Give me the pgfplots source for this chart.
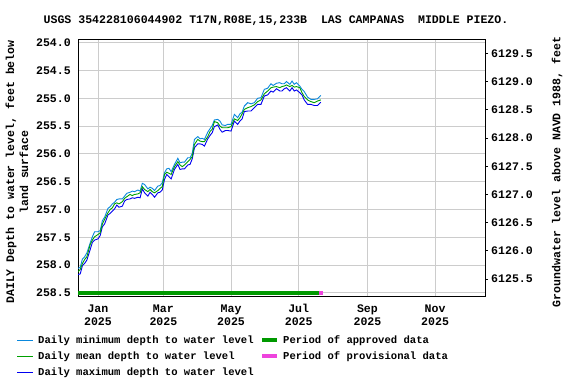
\documentclass[border=0pt]{standalone}
\usepackage{fontspec}
\setmainfont{Liberation Mono}
\usepackage{pgfplots}
\pgfplotsset{compat=1.18}
\definecolor{minblue}{RGB}{10,136,221}
\definecolor{meangreen}{RGB}{0,160,0}
\definecolor{maxblue}{RGB}{0,0,240}
\definecolor{apprgreen}{RGB}{0,153,0}
\definecolor{provpink}{RGB}{238,68,221}
\definecolor{gridgray}{RGB}{204,204,204}

\pgfplotstableread{
day mean
-18 258.12
-16 258.08
-14 257.97
-12 257.90
-10 257.85
-7 257.63
-5 257.55
-3 257.49
0 257.45
2 257.42
4 257.26
6 257.18
9 257.06
11 257.00
13 256.97
15 256.90
17 256.88
19 256.90
22 256.86
24 256.80
26 256.77
29 256.73
31 256.75
33 256.73
36 256.72
38 256.70
40 256.59
42 256.64
45 256.68
47 256.64
49 256.68
51 256.70
54 256.66
56 256.62
58 256.59
60 256.37
62 256.33
64 256.35
66 256.37
69 256.23
72 256.14
74 256.20
76 256.23
78 256.20
81 256.14
83 256.10
85 256.05
87 255.83
90 255.74
92 255.77
94 255.78
96 255.78
99 255.69
101 255.60
103 255.56
105 255.42
108 255.44
110 255.50
112 255.53
115 255.53
117 255.53
120 255.51
123 255.37
126 255.40
128 255.35
130 255.28
132 255.20
135 255.17
138 255.15
141 255.12
144 255.06
147 255.03
150 254.92
153 254.87
156 254.81
158 254.80
161 254.79
164 254.81
166 254.79
168 254.78
170 254.76
173 254.79
175 254.77
177 254.80
179 254.79
182 254.81
184 254.90
186 254.97
189 255.03
192 255.06
195 255.08
198 255.05
201 255.03
}\meandata

\pgfplotstableread{
day min max
-18 258.06 258.17
-16 258.04 258.16
-14 257.89 258.01
-12 257.85 257.97
-10 257.78 257.91
-7 257.60 257.72
-5 257.49 257.59
-3 257.40 257.55
0 257.40 257.53
2 257.38 257.47
4 257.20 257.31
6 257.14 257.26
9 256.98 257.10
11 256.95 257.07
13 256.90 257.03
15 256.87 256.99
17 256.82 256.92
19 256.81 256.96
22 256.81 256.94
24 256.76 256.85
26 256.71 256.82
29 256.69 256.81
31 256.67 256.79
33 256.68 256.80
36 256.65 256.78
38 256.67 256.79
40 256.53 256.63
42 256.55 256.70
45 256.63 256.76
47 256.60 256.69
49 256.62 256.73
51 256.66 256.78
54 256.58 256.70
56 256.57 256.69
58 256.52 256.65
60 256.34 256.46
62 256.27 256.37
64 256.26 256.41
66 256.32 256.45
69 256.19 256.28
72 256.08 256.19
74 256.16 256.28
76 256.15 256.27
78 256.15 256.27
81 256.07 256.20
83 256.07 256.19
85 255.99 256.09
87 255.74 255.89
90 255.69 255.82
92 255.73 255.82
94 255.72 255.83
96 255.74 255.86
99 255.61 255.73
101 255.55 255.67
103 255.49 255.62
105 255.39 255.51
108 255.38 255.48
110 255.41 255.56
112 255.48 255.61
115 255.49 255.58
117 255.47 255.58
120 255.47 255.59
123 255.29 255.41
126 255.35 255.47
128 255.28 255.41
130 255.25 255.37
132 255.14 255.24
135 255.08 255.23
138 255.10 255.23
141 255.08 255.17
144 255.00 255.11
147 254.99 255.11
150 254.84 254.96
153 254.82 254.94
156 254.74 254.87
158 254.77 254.89
161 254.73 254.83
164 254.72 254.87
166 254.74 254.87
168 254.74 254.83
170 254.70 254.81
173 254.75 254.87
175 254.69 254.81
177 254.75 254.87
179 254.72 254.85
182 254.78 254.90
184 254.84 254.94
186 254.88 255.03
189 254.98 255.11
192 255.02 255.11
195 255.02 255.13
198 255.01 255.13
201 254.95 255.07
}\minmaxdata

\begin{document}
\begin{tikzpicture}
\useasboundingbox (0bp,0bp) rectangle (576bp,384bp);
\tikzset{lbl/.style={font=\fontsize{11.6}{14}\selectfont\bfseries, inner sep=0pt}}

\begin{axis}[
  at={(78bp,88bp)}, anchor=south west,
  scale only axis, width=407bp, height=256.7bp,
  xmin=-18, xmax=349,
  ymin=253.94, ymax=258.556, y dir=reverse,
  axis line style={black, line width=1bp},
  grid=major, grid style={gridgray, line width=0.9bp},
  major tick length=0pt,
  xtick={0,59,120,181,243,304},
  xticklabels={\strut Jan\\2025, \strut Mar\\2025, \strut May\\2025, \strut Jul\\2025, \strut Sep\\2025, \strut Nov\\2025},
  xticklabel style={font=\fontsize{11.6}{13}\selectfont\bfseries, align=center, inner sep=0pt, yshift=-7bp},
  ytick={254,254.5,...,258.5},
  yticklabel style={font=\fontsize{11.6}{14}\selectfont\bfseries, inner sep=0pt, xshift=-7bp},
  /pgf/number format/.cd, fixed, fixed zerofill, precision=1, assume math mode=true,
]
\addplot[minblue, line width=0.9bp] table[x=day, y=min] {\minmaxdata};
\addplot[maxblue, line width=0.9bp] table[x=day, y=max] {\minmaxdata};
\addplot[meangreen, line width=0.9bp] table[x=day, y=mean] {\meandata};
\addplot[apprgreen, line width=4bp] coordinates {(-19,258.5) (199,258.5)};
\addplot[provpink, line width=4bp] coordinates {(199,258.5) (203,258.5)};
\end{axis}

\begin{axis}[
  at={(78bp,88bp)}, anchor=south west,
  scale only axis, width=407bp, height=256.7bp,
  xmin=-18, xmax=349,
  ymin=6125.20, ymax=6129.75,
  axis x line=none, axis y line*=right,
  axis line style={black, line width=1bp},
  tick align=outside, major tick length=3bp,
  tick style={black, line width=0.8bp},
  ytick={6125.5,6126,...,6129.5},
  yticklabel style={font=\fontsize{11.6}{14}\selectfont\bfseries, inner sep=0pt, xshift=3bp},
  /pgf/number format/.cd, fixed, fixed zerofill, precision=1, 1000 sep={}, assume math mode=true,
]
\addplot[draw=none] coordinates {(0,6127)};
\end{axis}

% title and axis labels
\node[lbl] at (276bp,363bp) {USGS 354228106044902 T17N,R08E,15,233B\ \ LAS CAMPANAS\ \ MIDDLE PIEZO.};
\node[lbl, rotate=90, align=center] at (17bp,212bp) {DAILY Depth to water level, feet below\\land surface};
\node[lbl, rotate=90] at (557bp,212bp) {Groundwater level above NAVD 1988, feet};

% legend
\begin{scope}[every node/.style={font=\fontsize{10.6}{12}\selectfont\bfseries, inner sep=0pt, anchor=west}]
\draw[minblue, line width=0.9bp] (17bp,43.5bp) -- (33bp,43.5bp);
\node at (38bp,43.5bp) {Daily minimum depth to water level};
\draw[meangreen, line width=0.9bp] (17bp,27.5bp) -- (33bp,27.5bp);
\node at (38bp,27.5bp) {Daily mean depth to water level};
\draw[maxblue, line width=0.9bp] (17bp,11.5bp) -- (33bp,11.5bp);
\node at (38bp,11.5bp) {Daily maximum depth to water level};
\draw[apprgreen, line width=4bp] (262bp,43.5bp) -- (277bp,43.5bp);
\node at (283bp,43.5bp) {Period of approved data};
\draw[provpink, line width=4bp] (262bp,27.5bp) -- (277bp,27.5bp);
\node at (283bp,27.5bp) {Period of provisional data};
\end{scope}
\end{tikzpicture}
\end{document}
